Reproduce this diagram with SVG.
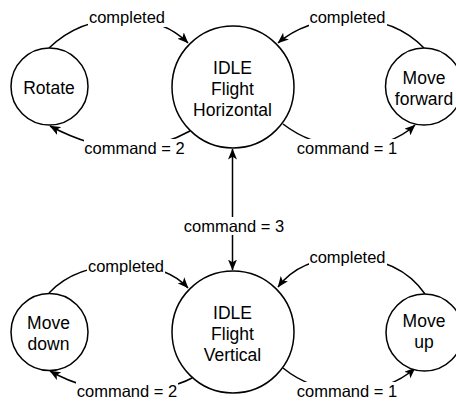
<svg xmlns="http://www.w3.org/2000/svg" width="456" height="401" viewBox="0 0 456 401">
  <style>
    .state { fill: #ffffff; stroke: #000000; stroke-width: 1.5; }
    .edge { fill: none; stroke: #000000; stroke-width: 1.5; marker-end: url(#arrow); }
    .node-text { font-family: "Liberation Sans", Arial, sans-serif; font-size: 17.5px; fill: #000000; text-anchor: middle; }
    .edge-text { font-family: "Liberation Sans", Arial, sans-serif; font-size: 16.5px; fill: #000000; text-anchor: middle; }
    .label-bg { fill: #ffffff; stroke: none; }
  </style>
  <defs>
    <marker id="arrow" viewBox="0 0 11 9" refX="10.5" refY="4.5" markerWidth="11" markerHeight="9" markerUnits="userSpaceOnUse" orient="auto-start-reverse">
      <path d="M0,0 L11,4.5 L0,9 L2.8,4.5 z" fill="#000000"/>
    </marker>
  </defs>
  <rect width="456" height="401" fill="#ffffff"/>

  <!-- transitions -->
  <g id="connectors">
    <!-- horizontal flight loops -->
    <path class="edge" d="M 49 48 Q 80 18 127 19 Q 165 20 188 43"/>
    <path class="edge" d="M 190 131 Q 165 145 134 148 Q 95 150 50 126"/>
    <path class="edge" d="M 424 48 Q 395 18 347 19 Q 305 20 278 43"/>
    <path class="edge" d="M 283 124 Q 310 145 347 147 Q 390 148 415 125"/>
    <!-- mode switch -->
    <path class="edge" d="M 232.5 149 L 232.5 270" marker-start="url(#arrow)"/>
    <!-- vertical flight loops -->
    <path class="edge" d="M 49 293 Q 75 265 126 265 Q 168 266 188 288"/>
    <path class="edge" d="M 192 378 Q 170 390 127 391 Q 85 391 50 371"/>
    <path class="edge" d="M 425 294 Q 400 258 347 257 Q 300 258 278 287"/>
    <path class="edge" d="M 283 368 Q 310 390 347 391 Q 390 391 415 368"/>

    <!-- labels -->
    <rect class="label-bg" x="88" y="9" width="78" height="18"/>
    <text class="edge-text" x="127" y="23">completed</text>
    <rect class="label-bg" x="84" y="139" width="102" height="18"/>
    <text class="edge-text" x="134.5" y="154">command = 2</text>
    <rect class="label-bg" x="309" y="9" width="78" height="18"/>
    <text class="edge-text" x="347.5" y="23">completed</text>
    <rect class="label-bg" x="296" y="139" width="102" height="18"/>
    <text class="edge-text" x="347" y="154">command = 1</text>
    <rect class="label-bg" x="183" y="217" width="102" height="18"/>
    <text class="edge-text" x="234" y="231.5">command = 3</text>
    <rect class="label-bg" x="87" y="257" width="78" height="18"/>
    <text class="edge-text" x="126" y="271.5">completed</text>
    <rect class="label-bg" x="76" y="382" width="102" height="18"/>
    <text class="edge-text" x="127" y="396.5">command = 2</text>
    <rect class="label-bg" x="309" y="249" width="78" height="18"/>
    <text class="edge-text" x="347.5" y="263">completed</text>
    <rect class="label-bg" x="296" y="382" width="102" height="18"/>
    <text class="edge-text" x="347" y="396.5">command = 1</text>
  </g>

  <g id="idle-horizontal">
    <circle class="state" cx="233" cy="87" r="61"/>
    <text class="node-text" x="232.5" y="73.5">IDLE</text>
    <text class="node-text" x="232.5" y="94.5">Flight</text>
    <text class="node-text" x="232.5" y="115.5">Horizontal</text>
  </g>
  <g id="rotate">
    <circle class="state" cx="49.5" cy="86.5" r="38.5"/>
    <text class="node-text" x="49" y="94.3">Rotate</text>
  </g>
  <g id="move-forward">
    <circle class="state" cx="424" cy="86.5" r="38.5"/>
    <text class="node-text" x="424" y="84">Move</text>
    <text class="node-text" x="424" y="105">forward</text>
  </g>
  <g id="idle-vertical">
    <circle class="state" cx="233" cy="332" r="61"/>
    <text class="node-text" x="232.5" y="319">IDLE</text>
    <text class="node-text" x="232.5" y="340">Flight</text>
    <text class="node-text" x="232.5" y="361">Vertical</text>
  </g>
  <g id="move-down">
    <circle class="state" cx="49.5" cy="332" r="38.5"/>
    <text class="node-text" x="48.5" y="329">Move</text>
    <text class="node-text" x="48.5" y="350">down</text>
  </g>
  <g id="move-up">
    <circle class="state" cx="424.5" cy="332.5" r="38.5"/>
    <text class="node-text" x="424" y="327">Move</text>
    <text class="node-text" x="424" y="348">up</text>
  </g>
</svg>
